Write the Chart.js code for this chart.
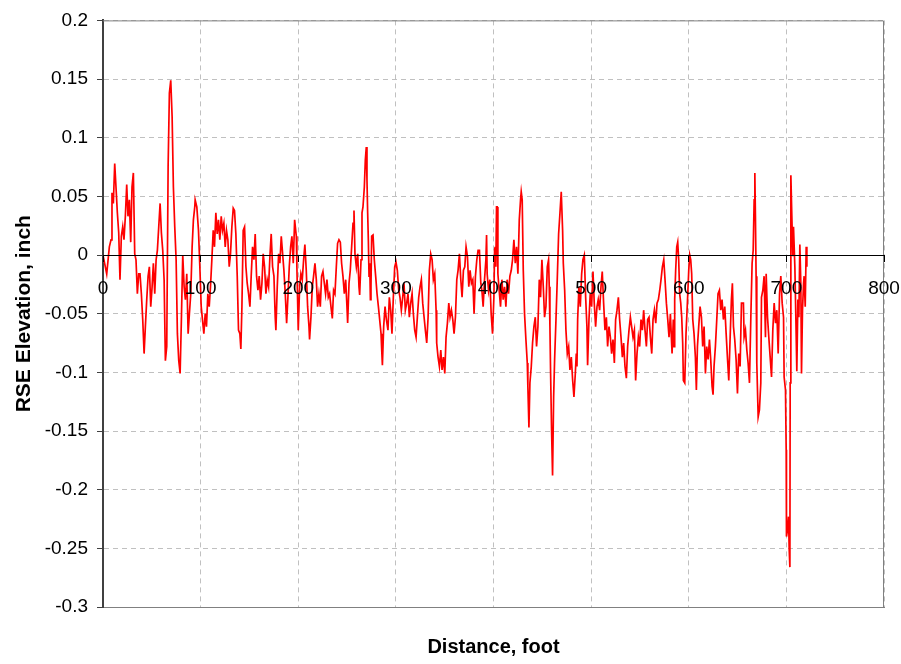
<!DOCTYPE html>
<html>
<head>
<meta charset="utf-8">
<script src="https://cdn.jsdelivr.net/npm/chart.js@4.4.1/dist/chart.umd.min.js"></script>
<style>
  html, body { margin: 0; padding: 0; background: #fff; }
  #rseChart { display: block; }
</style>
</head>
<body>
<canvas id="rseChart" width="901" height="664" style="width:901px;height:664px"></canvas>
<script>
// Perfil RSE (distância em pés, elevação em polegadas)
const distance = [
  0, 3.8, 6.5, 8.2, 9.2, 10.6, 12.0, 13.3, 14.7, 16.1,
  17.4, 18.8, 20.2, 21.5, 22.9, 24.3, 25.6, 27.0, 28.4, 29.7,
  31.1, 32.5, 33.8, 35.2, 36.6, 37.9, 39.3, 40.7, 42.1, 43.4,
  44.8, 46.2, 47.5, 48.9, 50.3, 51.6, 53.0, 54.4, 55.7, 57.1,
  58.5, 59.8, 61.2, 62.6, 63.9, 65.3, 66.7, 68.0, 69.4, 70.8,
  72.1, 73.5, 74.9, 76.2, 77.6, 79.0, 80.3, 81.7, 83.1, 84.4,
  85.8, 87.2, 88.5, 89.9, 91.3, 92.6, 94.0,
  94.4, 96.1, 97.8, 99.2, 100.6, 101.9, 103.3, 104.7, 106.0, 107.4,
  108.8, 110.1, 111.5, 112.9, 114.2, 115.6, 117.0, 118.3, 119.7, 121.1,
  122.4, 123.8, 125.2, 126.5, 127.9, 129.3, 130.6, 132.0, 133.4, 134.7,
  136.1, 137.5, 138.8, 140.2, 141.2, 142.3, 143.6, 145.0, 146.4, 147.7,
  149.1, 150.5, 151.8, 153.2, 154.6, 155.9, 157.3, 158.7, 160.0, 161.4,
  162.8, 164.1, 165.5, 166.9, 168.2, 169.6, 171.0, 172.3, 173.7, 175.1,
  176.4, 177.1, 178.5, 179.9, 181.2, 182.6, 184.0, 185.3, 186.7, 188.1,
  189.4, 190.8, 192.2, 193.5, 194.9, 196.3,
  198.0, 198.6, 200.0, 201.4, 202.7, 204.1, 205.5, 206.8, 208.2, 209.6,
  211.0, 211.6, 213.0, 214.4, 215.7, 217.1, 218.5, 219.8, 221.2, 222.6,
  223.9, 225.3, 226.7, 228.0, 229.4, 230.8, 232.1, 233.5, 234.9, 236.2,
  237.6, 239.0, 240.3, 241.7, 243.1, 244.4, 245.8, 247.2, 248.6, 249.9,
  250.6, 252.0, 253.3, 254.7, 256.1, 257.1, 258.1, 259.5, 260.9, 262.2,
  262.9, 264.3, 265.3, 266.3, 267.7, 268.7, 269.7, 270.4, 271.1, 271.8,
  272.5, 273.2, 273.9, 274.5, 275.2, 276.6, 277.9, 279.3, 280.7, 282.1,
  283.4, 284.8, 285.5, 286.2, 287.5, 288.9, 290.3,
  291.9, 293.3, 294.7, 296.0, 297.4, 298.8, 300.1, 301.5, 302.9, 304.2,
  305.6, 307.0, 308.3, 309.7, 311.1, 312.4, 313.8, 315.2, 316.6, 317.9,
  319.3, 320.7, 322.0, 323.4, 324.8, 326.1, 327.5, 328.9, 330.2, 331.6,
  333.0, 334.3, 335.7, 337.1, 338.4, 339.8, 341.2, 341.8, 343.2, 344.6,
  346.0, 347.3, 348.7, 350.1, 351.4, 352.8, 354.2, 355.5, 356.9, 358.3,
  359.6, 361.0, 362.4, 363.7, 365.1, 366.5, 367.8, 369.2, 370.6, 371.9,
  373.3, 374.7, 376.0, 377.4, 378.8, 380.1, 381.5, 382.9, 384.2, 385.6,
  387.0,
  388.1, 389.4, 390.8, 392.2, 392.9, 393.5, 394.9, 396.3, 397.6, 399.0,
  400.4, 401.1, 401.7, 402.4, 403.1, 403.8, 404.5, 405.8, 407.2, 408.6,
  409.9, 411.3, 412.7, 414.0, 415.4, 416.8, 418.2, 419.5, 420.9, 422.3,
  423.6, 425.0, 426.4, 427.7, 428.4, 429.4, 430.5, 431.8, 433.2, 434.6,
  435.2, 436.3, 437.3, 438.7, 440.0, 441.4, 442.8, 444.1, 445.5, 446.9,
  448.2, 449.6, 451.0, 452.3, 453.7, 455.1, 456.4, 457.1, 457.8, 458.5,
  459.5, 460.5, 461.6, 462.6, 464.0, 465.3, 466.7, 468.1, 469.4, 470.8,
  471.5, 472.9, 474.2, 475.6, 477.0, 478.3, 479.7, 481.1, 482.4, 483.8,
  484.8, 485.5, 486.2, 487.5, 488.9, 490.3, 491.6, 493.0, 494.4, 495.7,
  496.4, 497.8, 499.1, 500.5, 501.9, 503.2, 504.6, 506.0, 507.3, 508.7,
  510.1, 511.4, 512.8, 514.2, 515.6, 516.9, 518.3, 519.7, 521.0, 522.4,
  523.8, 525.1, 526.5, 527.9, 529.2, 530.6, 532.0, 533.3, 534.7, 536.1,
  537.4, 538.8, 540.2, 541.5, 542.9, 544.3, 545.6, 547.0, 548.4, 549.7,
  551.1, 552.5, 553.8, 555.2, 556.6, 557.9, 559.3, 560.7, 562.1, 563.4,
  564.8, 566.2, 567.5, 568.9, 570.3, 571.6, 573.0, 574.4, 575.7, 577.1,
  578.5, 579.8, 581.2,
  582.9, 584.2, 584.9, 585.6, 586.6, 587.7, 588.7, 589.7, 590.7, 591.8,
  592.8, 593.8, 594.5, 595.9, 597.2, 598.6, 600.0, 601.0, 602.0, 603.0,
  604.1, 605.4, 606.8, 607.8, 608.9, 610.2, 611.6, 613.0, 614.3, 615.7,
  617.1, 618.4, 619.8, 621.2, 622.5, 623.9, 624.9, 625.9, 627.3, 628.7,
  630.0, 631.4, 632.8, 634.1, 635.5, 636.9, 638.3, 639.6, 641.0, 642.4,
  643.7, 644.7, 645.8, 647.1, 648.5, 649.9, 651.2, 652.6, 654.0,
  656.0, 656.7, 658.1, 659.5, 660.8, 662.2, 663.6, 664.9, 666.0, 667.0,
  667.7, 668.3, 669.0, 669.7, 671.1, 672.4, 673.8, 674.5, 675.9, 677.2,
  678.6, 679.3, 680.7, 682.0, 683.4, 684.8, 686.1, 687.5, 688.9, 690.2,
  691.6, 693.0, 694.3, 695.7, 697.1, 697.7, 699.1, 699.8, 700.1, 701.2,
  702.2, 702.9, 703.6, 703.9, 704.6, 705.6, 706.6, 707.3, 708.7, 709.7,
  710.7, 711.8, 712.8, 713.8, 714.8, 715.5, 716.5, 717.6, 718.2, 719.3,
  720.3, 721.0
];
const elevation = [
  0, -0.016, 0.007, 0.013, 0.053, 0.044, 0.078, 0.058, 0.036, 0.019,
  -0.021, 0.016, 0.024, 0.013, 0.033, 0.060, 0.033, 0.047, 0.011, 0.058,
  0.070, 0.001, -0.004, -0.033, -0.016, -0.016, -0.033, -0.055, -0.084, -0.061,
  -0.038, -0.018, -0.010, -0.044, -0.027, -0.007, -0.033, -0.004, 0.004, 0.024,
  0.044, 0.019, 0.004, -0.021, -0.090, -0.078, 0.075, 0.138, 0.149, 0.118,
  0.058, 0.024, -0.004, -0.067, -0.090, -0.101, -0.055, 0, -0.027, -0.038,
  -0.016, -0.067, -0.050, -0.033, 0.007, 0.030, 0.041,
  0.047, 0.041, 0.021, -0.010, -0.044, -0.055, -0.067, -0.050, -0.061, -0.033,
  -0.044, -0.027, -0.004, 0.021, 0.007, 0.036, 0.018, 0.030, 0.013, 0.033,
  0.021, 0.027, 0.007, 0.021, 0.013, -0.010, 0.001, 0.024, 0.040, 0.038,
  0.018, -0.018, -0.064, -0.067, -0.080, -0.044, 0.021, 0.024, -0.010, -0.024,
  -0.033, -0.044, -0.018, 0.007, -0.004, 0.018, -0.018, -0.030, -0.018, -0.038,
  -0.024, 0.001, -0.010, -0.033, -0.021, -0.027, -0.001, 0.018, -0.010, -0.018,
  -0.053, -0.064, -0.027, 0.001, -0.007, 0.016, 0.001, -0.013, -0.033, -0.058,
  -0.036, -0.010, 0.007, 0.016, -0.007, 0.030,
  0.016, -0.010, -0.064, -0.027, -0.016, -0.021, -0.004, 0.009, -0.013, -0.044,
  -0.061, -0.072, -0.053, -0.027, -0.018, -0.007, -0.021, -0.044, -0.033, -0.044,
  -0.018, -0.014, -0.024, -0.033, -0.021, -0.036, -0.033, -0.044, -0.054, -0.030,
  -0.033, -0.010, 0.010, 0.013, 0.011, -0.007, -0.018, -0.033, -0.021, -0.044,
  -0.058, -0.024, -0.013, 0.007, 0.027, 0.038, 0.001, -0.010, 0.001, -0.027,
  -0.034, -0.004, 0.036, 0.041, 0.058, 0.081, 0.092, 0.064, 0.036, 0.013,
  -0.018, -0.007, -0.038, -0.027, 0.016, 0.017, -0.004, -0.018, -0.033, -0.044,
  -0.055, -0.067, -0.081, -0.094, -0.061, -0.044, -0.055,
  -0.064, -0.036, -0.047, -0.067, -0.036, -0.010, -0.006, -0.013, -0.030, -0.036,
  -0.047, -0.036, -0.024, -0.047, -0.041, -0.033, -0.053, -0.041, -0.033, -0.050,
  -0.064, -0.070, -0.053, -0.036, -0.027, -0.021, -0.041, -0.053, -0.064, -0.075,
  -0.053, -0.013, 0.001, -0.004, -0.021, -0.016, -0.047, -0.075, -0.087, -0.095,
  -0.081, -0.098, -0.087, -0.101, -0.070, -0.058, -0.041, -0.053, -0.047, -0.055,
  -0.067, -0.053, -0.021, -0.013, 0.001, -0.021, -0.036, -0.013, -0.010, 0.007,
  -0.001, -0.027, -0.013, -0.024, -0.021, -0.050, -0.018, -0.004, 0.004, 0.004,
  -0.024,
  -0.030, -0.044, -0.021, -0.004, 0.017, -0.016, -0.030, -0.021, -0.050, -0.067,
  -0.036, 0.004, 0.007, -0.010, 0.041, 0.041, -0.016, -0.030, -0.044, -0.021,
  -0.038, -0.027, -0.044, -0.021, -0.033, -0.018, -0.013, -0.004, 0.013, -0.007,
  0.007, -0.016, 0.030, 0.047, 0.054, 0.047, -0.013, -0.050, -0.072, -0.092,
  -0.112, -0.147, -0.109, -0.095, -0.075, -0.061, -0.053, -0.078, -0.061, -0.021,
  -0.036, -0.004, -0.027, -0.053, -0.044, -0.010, -0.004, -0.027, -0.061, -0.101,
  -0.150, -0.188, -0.121, -0.089, -0.055, -0.021, 0.018, 0.036, 0.054, 0.021,
  -0.007, -0.030, -0.064, -0.084, -0.078, -0.098, -0.087, -0.107, -0.121, -0.101,
  -0.084, -0.095, -0.055, -0.027, -0.044, -0.016, -0.004, 0, -0.036, -0.061,
  -0.094, -0.055, -0.033, -0.044, -0.014, -0.041, -0.061, -0.044, -0.038, -0.047,
  -0.027, -0.014, -0.041, -0.064, -0.053, -0.078, -0.061, -0.070, -0.084, -0.072,
  -0.092, -0.055, -0.047, -0.036, -0.055, -0.070, -0.087, -0.075, -0.095, -0.105,
  -0.078, -0.064, -0.053, -0.061, -0.070, -0.064, -0.107, -0.084, -0.070, -0.078,
  -0.055, -0.064, -0.047, -0.064, -0.078, -0.055, -0.053, -0.070, -0.084, -0.055,
  -0.047, -0.058, -0.041, -0.038, -0.030, -0.021, -0.010, -0.004, -0.021, -0.041,
  -0.055, -0.070, -0.050,
  -0.084, -0.055, -0.078, -0.038, -0.013, 0.007, 0.011, -0.004, -0.033, -0.041,
  -0.053, -0.075, -0.107, -0.109, -0.067, -0.041, -0.013, 0, -0.004, -0.016,
  -0.055, -0.067, -0.087, -0.115, -0.078, -0.061, -0.044, -0.053, -0.078, -0.061,
  -0.101, -0.078, -0.089, -0.072, -0.089, -0.112, -0.119, -0.095, -0.078, -0.055,
  -0.033, -0.030, -0.047, -0.038, -0.055, -0.044, -0.067, -0.087, -0.107, -0.070,
  -0.038, -0.024, -0.061, -0.072, -0.089, -0.118, -0.084, -0.095, -0.041,
  -0.041, -0.070, -0.064, -0.081, -0.092, -0.109, -0.053, -0.007, 0.004, 0.047,
  0.070, 0.033, -0.018, -0.092, -0.138, -0.132, -0.109, -0.036, -0.030, -0.018,
  -0.070, -0.016, -0.053, -0.070, -0.087, -0.104, -0.064, -0.041, -0.058, -0.047,
  -0.084, -0.033, -0.018, -0.041, -0.053, -0.104, -0.115, -0.166, -0.240, -0.234,
  -0.223, -0.251, -0.266, -0.109, 0.068, 0.033, -0.001, 0.024, -0.010, -0.053,
  -0.099, -0.038, -0.053, 0.009, -0.024, -0.101, -0.047, -0.024, -0.018, -0.044,
  0.007, -0.010
];
const xTickValues = [0, 100, 200, 300, 400, 500, 600, 700, 800];
const yTickValues = [0.2, 0.15, 0.1, 0.05, 0, -0.05, -0.1, -0.15, -0.2, -0.25, -0.3];

Chart.defaults.font.family = "'Liberation Sans', Arial, sans-serif";
Chart.defaults.color = '#000';

// moldura cinza no topo e à direita da área do gráfico
const plotFrame = {
  id: 'plotFrame',
  beforeDatasetsDraw(chart) {
    const { ctx, chartArea: a } = chart;
    ctx.save();
    ctx.strokeStyle = '#808080';
    ctx.lineWidth = 1;
    ctx.beginPath();
    ctx.moveTo(a.left, a.top + 0.5);
    ctx.lineTo(a.right - 0.5, a.top + 0.5);
    ctx.lineTo(a.right - 0.5, a.bottom);
    ctx.stroke();
    ctx.restore();
  }
};

const fmtTick = (v) => String(Math.round(v * 100) / 100);

new Chart(document.getElementById('rseChart'), {
  type: 'line',
  data: {
    datasets: [{
      label: 'RSE',
      data: distance.map((d, i) => ({ x: d, y: elevation[i] })),
      borderColor: '#ff0000',
      borderWidth: 1.7,
      pointRadius: 0,
      tension: 0,
      fill: false
    }]
  },
  options: {
    responsive: false,
    animation: false,
    layout: { padding: { left: 0, right: 17, top: 20, bottom: 0 } },
    plugins: { legend: { display: false }, tooltip: { enabled: false } },
    scales: {
      x: {
        type: 'linear', min: 0, max: 800, position: 'bottom',
        ticks: { display: false, stepSize: 100 },
        grid: { color: '#c0c0c0', drawTicks: false },
        border: { color: '#808080', width: 1, dash: [5, 4] },
        afterFit: (s) => { s.height = 57; s.paddingLeft = 0; s.paddingRight = 0; },
        title: { display: true, text: 'Distance, foot', font: { size: 20, weight: 'bold' }, padding: { top: 0, bottom: 5 } }
      },
      x0: {
        type: 'linear', axis: 'x', min: 0, max: 800, position: { y: 0 },
        afterBuildTicks: (s) => { s.ticks = xTickValues.map(v => ({ value: v })); },
        afterFit: (s) => { s.paddingLeft = 0; s.paddingRight = 0; },
        ticks: { font: { size: 19 }, padding: 16, maxRotation: 0, autoSkip: false, z: 1 },
        grid: { drawOnChartArea: false, tickColor: '#000', tickLength: 6, z: 1 },
        border: { color: '#000', width: 1, z: 1 }
      },
      y: {
        type: 'linear', min: -0.3, max: 0.2, position: 'left',
        afterBuildTicks: (s) => { s.ticks = yTickValues.map(v => ({ value: v })); },
        ticks: { font: { size: 19 }, padding: 9, callback: fmtTick },
        grid: { color: '#c0c0c0', tickColor: '#404040', tickLength: 6 },
        border: { color: '#404040', width: 2, dash: [5, 4] },
        afterFit: (s) => { s.width = 103; },
        title: { display: true, text: 'RSE Elevation, inch', font: { size: 21, weight: 'bold' }, padding: { top: 12, bottom: 0 } }
      }
    }
  },
  plugins: [plotFrame]
});
</script>
</body>
</html>
